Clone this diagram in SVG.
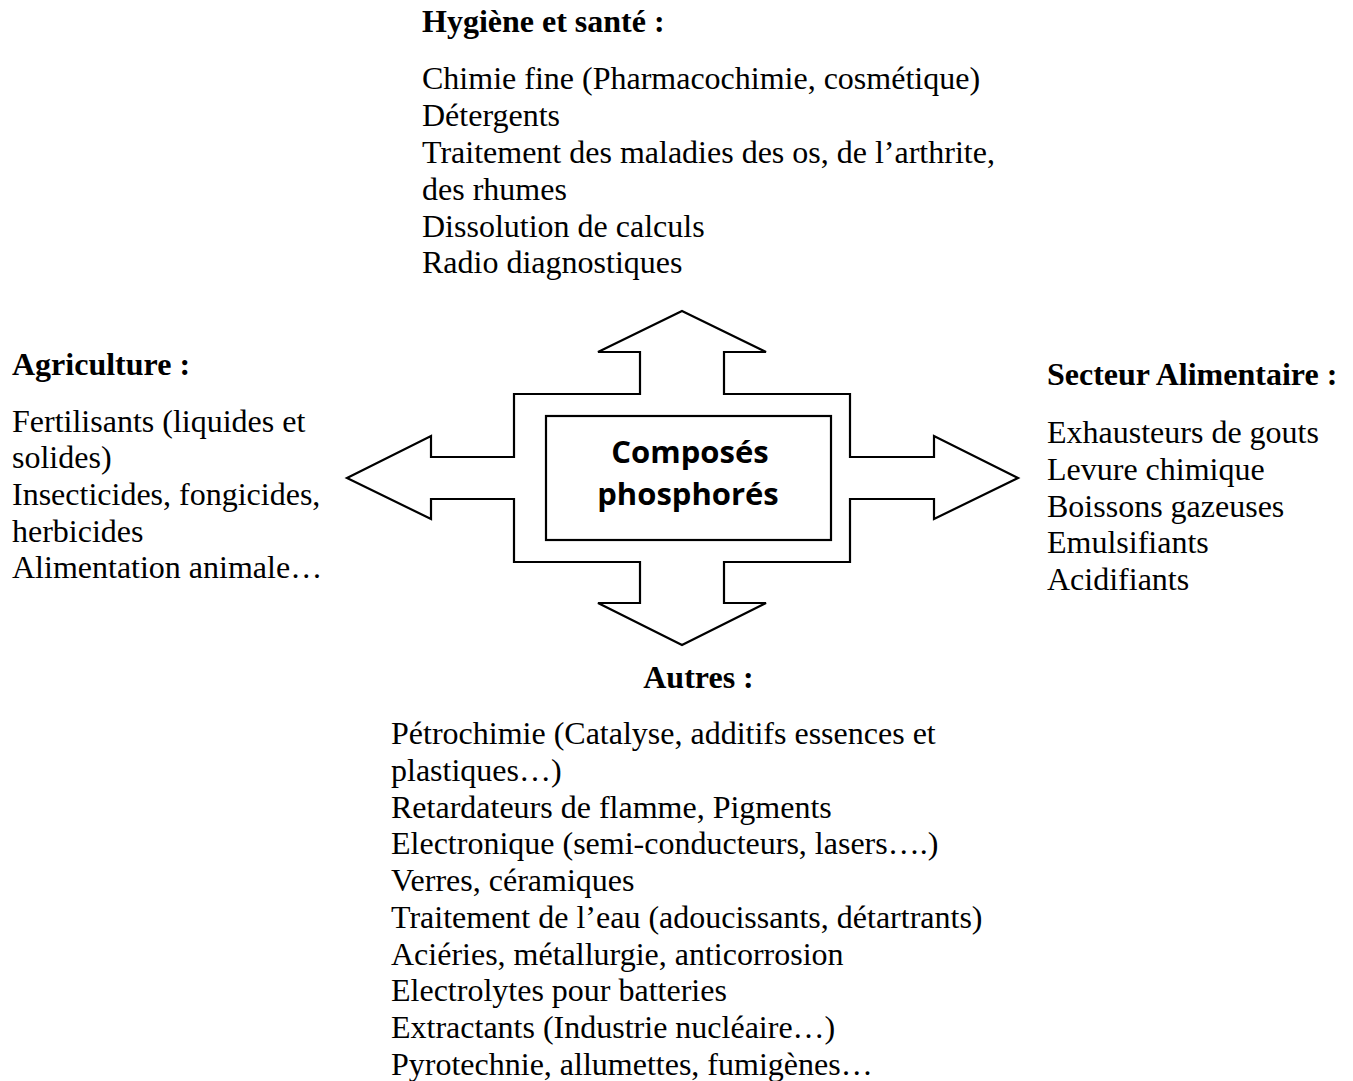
<svg xmlns="http://www.w3.org/2000/svg" width="1353" height="1081" viewBox="0 0 1353 1081">
<style>
.t{font-family:"Liberation Serif","Times New Roman",serif;font-size:32px;fill:#000}
.h{font-family:"Liberation Serif","Times New Roman",serif;font-size:32px;font-weight:bold;fill:#000}
.c{font-family:"Open Sans","Noto Sans",sans-serif;font-size:31px;font-weight:bold;fill:#000;text-anchor:middle}
.o{fill:#fff;stroke:#000;stroke-width:2.2;stroke-linejoin:miter}
</style>
<rect width="1353" height="1081" fill="#fff"/>
<g id="connectors">
<polygon class="o" points="682,311 766,352 724,352 724,394 850,394 850,457 934,457 934,436 1018,478 934,519 934,499 850,499 850,562 724,562 724,603 766,603 682,645 598,603 640,603 640,562 514,562 514,499 431,499 431,519 347,478 431,436 431,457 514,457 514,394 640,394 640,352 598,352"/>
</g>
<g id="center">
<rect class="o" x="546" y="416" width="285" height="124"/>
<text class="c" x="690" y="463">Composés</text>
<text class="c" x="688" y="505">phosphorés</text>
</g>
<g id="hygiene">
<text class="h" x="422" y="32">Hygiène et santé :</text>
<text class="t" x="422" y="89">Chimie fine (Pharmacochimie, cosmétique)</text>
<text class="t" x="422" y="126">Détergents</text>
<text class="t" x="422" y="163">Traitement des maladies des os, de l’arthrite,</text>
<text class="t" x="422" y="200">des rhumes</text>
<text class="t" x="422" y="236.5">Dissolution de calculs</text>
<text class="t" x="422" y="273">Radio diagnostiques</text>
</g>
<g id="agriculture">
<text class="h" x="12" y="375">Agriculture :</text>
<text class="t" x="12" y="432">Fertilisants (liquides et</text>
<text class="t" x="12" y="468">solides)</text>
<text class="t" x="12" y="505">Insecticides, fongicides,</text>
<text class="t" x="12" y="542">herbicides</text>
<text class="t" x="12" y="578">Alimentation animale…</text>
</g>
<g id="alimentaire">
<text class="h" x="1047" y="385">Secteur Alimentaire :</text>
<text class="t" x="1047" y="443">Exhausteurs de gouts</text>
<text class="t" x="1047" y="480">Levure chimique</text>
<text class="t" x="1047" y="517">Boissons gazeuses</text>
<text class="t" x="1047" y="553">Emulsifiants</text>
<text class="t" x="1047" y="590">Acidifiants</text>
</g>
<g id="autres">
<text class="h" x="698.5" y="688" text-anchor="middle">Autres :</text>
<text class="t" x="391" y="744">Pétrochimie (Catalyse, additifs essences et</text>
<text class="t" x="391" y="781">plastiques…)</text>
<text class="t" x="391" y="818">Retardateurs de flamme, Pigments</text>
<text class="t" x="391" y="854">Electronique (semi-conducteurs, lasers….)</text>
<text class="t" x="391" y="891">Verres, céramiques</text>
<text class="t" x="391" y="928">Traitement de l’eau (adoucissants, détartrants)</text>
<text class="t" x="391" y="965">Aciéries, métallurgie, anticorrosion</text>
<text class="t" x="391" y="1001">Electrolytes pour batteries</text>
<text class="t" x="391" y="1038">Extractants (Industrie nucléaire…)</text>
<text class="t" x="391" y="1075">Pyrotechnie, allumettes, fumigènes…</text>
</g>
</svg>
